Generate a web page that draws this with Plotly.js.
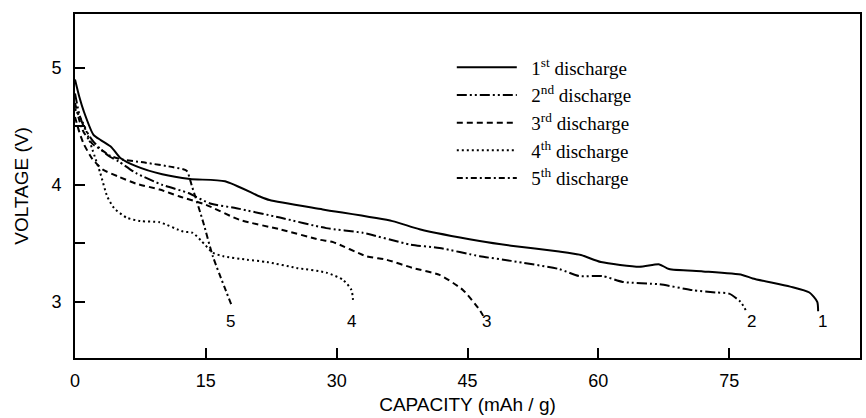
<!DOCTYPE html>
<html>
<head>
<meta charset="utf-8">
<script src="https://cdn.plot.ly/plotly-3.0.1.min.js"></script>
<style>html,body{margin:0;padding:0;background:#fff;}#chart{width:866px;height:418px;}</style>
</head>
<body>
<div id="chart"></div>
<script>
// Capacity (mAh/g) and voltage (V) for each discharge
const cap1 = [0,0.5,1,2.1,3,4.2,5.2,7,10,13.2,17.2,21.2,22.3,28.4,36.4,39.5,46.4,50,55.5,58,60.3,64.7,67,68.1,72,76.5,77.7,82,84.2,85.1,85.2];
const volt1 = [4.9,4.75,4.63,4.43,4.38,4.32,4.23,4.16,4.09,4.05,4.03,3.90,3.87,3.79,3.69,3.62,3.52,3.48,3.43,3.40,3.34,3.30,3.32,3.28,3.26,3.23,3.20,3.13,3.08,3.0,2.92];

const cap2 = [0,0.5,1,2,3,4,5,7,10,13,15.5,18.5,23.5,28.8,33,38.4,41.8,46.4,50,55.5,57.8,60.5,62.8,67,70.8,73.5,75,76.3,76.9];
const volt2 = [4.78,4.6,4.5,4.38,4.3,4.24,4.2,4.1,4.0,3.93,3.84,3.80,3.72,3.63,3.59,3.49,3.46,3.39,3.35,3.28,3.22,3.22,3.17,3.15,3.10,3.08,3.07,3.0,2.93];

const cap3 = [0,0.5,1,2,3.2,5,7,9.7,12,15,18.9,23.5,28.1,29.6,33.4,35.7,38.7,41.8,44.5,46.4,46.8];
const volt3 = [4.58,4.45,4.35,4.22,4.13,4.07,4.01,3.96,3.90,3.83,3.70,3.62,3.53,3.51,3.39,3.36,3.29,3.23,3.10,2.93,2.88];

const cap4 = [0,1.1,2,2.9,3.7,4.5,5.9,7.5,9.7,12.4,13.5,14.5,15.8,17,19.7,22,25.4,28.8,30.7,31.7,31.9];
const volt4 = [4.65,4.5,4.3,4.1,3.9,3.8,3.72,3.69,3.68,3.6,3.59,3.52,3.42,3.39,3.36,3.34,3.29,3.25,3.19,3.10,2.99];

const cap5 = [0,0.5,1,2,3,4,5.2,8,11.3,12.8,13.4,14.7,15.8,17.9];
const volt5 = [4.7,4.55,4.45,4.35,4.3,4.25,4.22,4.19,4.15,4.12,3.99,3.68,3.39,2.98];

const seriesNames = ['1<sup>st</sup> discharge','2<sup>nd</sup> discharge','3<sup>rd</sup> discharge','4<sup>th</sup> discharge','5<sup>th</sup> discharge'];
const curveLabels = ['1','2','3','4','5'];
const labelX = [85.7,77.6,47.2,31.7,17.8];
const labelY = [2.83,2.83,2.83,2.83,2.83];

const xTicks = [0,15,30,45,60,75,90];
const yTicks = [3,3.5,4,4.5,5];
const yTickText = ['3','','4','','5'];

const caps = [cap1,cap2,cap3,cap4,cap5];
const volts = [volt1,volt2,volt3,volt4,volt5];
const dashes = ['solid','10px,3px,2px,3px,2px,3px','6px,4px','2px,3px','6px,3px,2px,3px'];

const traces = caps.map((c,i)=>({
  x: c, y: volts[i], type:'scatter', mode:'lines', name: '\u00a0\u00a0' + seriesNames[i],
  line:{color:'#000', width:2, dash:dashes[i], shape:'spline', smoothing:0.6}
}));

const annotations = curveLabels.map((t,i)=>({
  x: labelX[i], y: labelY[i], xref:'x', yref:'y', text:t, showarrow:false,
  font:{family:'Liberation Sans, Arial', size:17, color:'#000'}
}));

const tickFont = {family:'Liberation Sans, Arial', size:18, color:'#000'};
const titleFont = {family:'Liberation Sans, Arial', size:19, color:'#000'};

const layout = {
  width:866, height:418,
  margin:{l:75, r:6, t:14, b:60},
  paper_bgcolor:'#fff', plot_bgcolor:'#fff',
  showlegend:true,
  legend:{x:0.48, y:0.9, xanchor:'left', yanchor:'top', bgcolor:'rgba(0,0,0,0)',
    font:{family:'Liberation Serif, Times New Roman', size:19, color:'#000'},
    itemwidth:60, tracegroupgap:0},
  xaxis:{range:[0,90], tickvals:xTicks, ticks:'inside', ticklen:10, tickwidth:2, tickcolor:'#000',
    showline:true, linewidth:2, linecolor:'#000', mirror:true, showgrid:false, zeroline:false,
    tickfont:tickFont, ticklabelstandoff:5,
    title:{text:'CAPACITY (mAh / g)', font:titleFont, standoff:8}},
  yaxis:{range:[2.52,5.46], tickvals:yTicks, ticktext:yTickText, ticks:'inside', ticklen:10, tickwidth:2, tickcolor:'#000',
    showline:true, linewidth:2, linecolor:'#000', mirror:true, showgrid:false, zeroline:false,
    tickfont:tickFont, ticklabelstandoff:8,
    title:{text:'VOLTAGE (V)', font:titleFont, standoff:18}},
  annotations: annotations
};

Plotly.newPlot('chart', traces, layout, {displayModeBar:false, staticPlot:true});
</script>
</body>
</html>
